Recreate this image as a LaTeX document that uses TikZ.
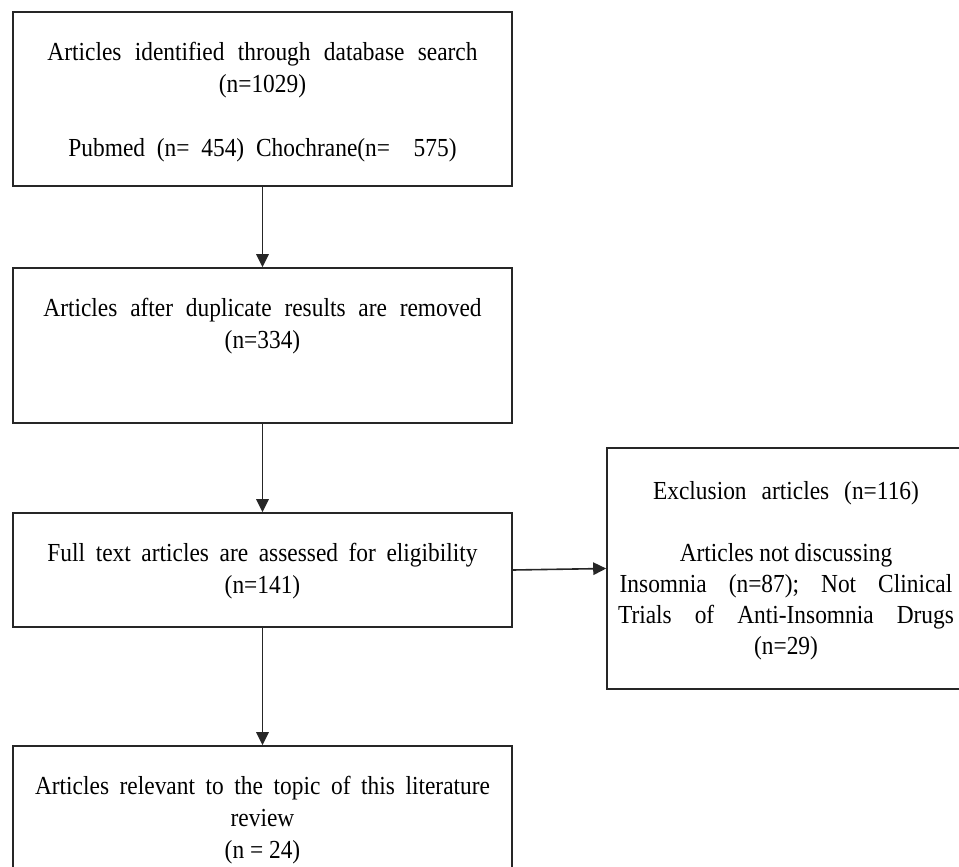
\documentclass[tikz,border=0pt]{standalone}
\usepackage{fontspec}
\setmainfont[FakeStretch=0.9]{Liberation Serif}
\usetikzlibrary{arrows.meta}
\newcommand{\wsp}[1]{\spaceskip=#1pt\relax}
\newcommand{\fntA}{\fontsize{26}{32}\selectfont}
\newcommand{\fntB}{\fontsize{26}{31}\selectfont}
\begin{document}
\begin{tikzpicture}[x=1pt,y=-1pt,
  box/.style={draw=black!85, line width=1.6pt, inner sep=0pt},
  txt/.style={align=center, inner sep=0pt, anchor=north, font=\fntA},
  txtr/.style={align=center, inner sep=0pt, anchor=north, font=\fntB},
  arr/.style={draw=black!85, line width=1.6pt, -{Triangle[length=13pt,width=12.5pt]}}]
\useasboundingbox (0,0) rectangle (959,867);
\clip (0,0) rectangle (959,867);
% boxes
\node[box, minimum width=499pt, minimum height=174pt] (b1) at (262.5,99) {};
\node[box, minimum width=499pt, minimum height=155pt] (b2) at (262.5,345.5) {};
\node[box, minimum width=499pt, minimum height=114pt] (b3) at (262.5,570) {};
\node[box, minimum width=499pt, minimum height=144pt] (b4) at (262.5,818) {};
\node[box, minimum width=358pt, minimum height=241pt] (b5) at (786,568.5) {};
% texts
\node[txt] (t1) at ([yshift=-30.5pt]b1.north) {\wsp{13.3}Articles identified through database search\\(n=1029)\\[32pt]\wsp{11.8}Pubmed (n= 454) Chochrane(n=\ \ 575)};
\node[txt] (t2) at ([yshift=-30.5pt]b2.north) {\wsp{12.8}Articles after duplicate results are removed\\(n=334)};
\node[txt] (t3) at ([yshift=-30.5pt]b3.north) {\wsp{10.6}Full text articles are assessed for eligibility\\(n=141)};
\node[txt] (t4) at ([yshift=-30.5pt]b4.north) {\wsp{10.6}Articles relevant to the topic of this literature\\review\\(n = 24)};
\node[txtr] (t5) at ([yshift=-34pt]b5.north) {\wsp{15}Exclusion articles (n=116)\\[31pt]\wsp{5.5}Articles not discussing\\\wsp{22}Insomnia (n=87); Not Clinical\\\wsp{23}Trials of Anti-Insomnia Drugs\\(n=29)};
% arrows
\draw[arr] (b1.south) -- (b2.north);
\draw[arr] (b2.south) -- (b3.north);
\draw[arr] (b3.south) -- (b4.north);
\draw[arr] (b3.east) -- (b5.west);
\end{tikzpicture}
\end{document}
